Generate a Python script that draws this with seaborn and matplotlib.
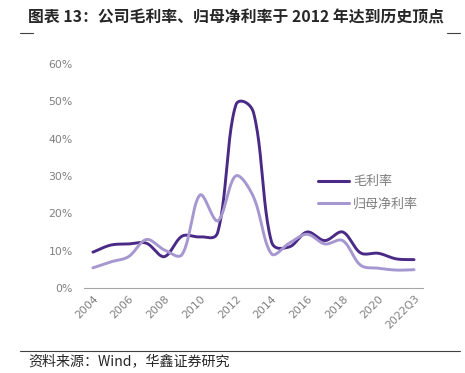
import numpy as np
import pandas as pd
import matplotlib
matplotlib.use('Agg')
import matplotlib.pyplot as plt
import seaborn as sns
from matplotlib.lines import Line2D

## categories and values
years = ['2004', '2005', '2006', '2007', '2008', '2009', '2010', '2011', '2012', '2013',
         '2014', '2015', '2016', '2017', '2018', '2019', '2020', '2021', '2022Q3']
gross_margin = [9.6, 11.5, 11.8, 12.0, 8.4, 13.9, 13.7, 15.0, 48.9, 47.0,
                12.5, 11.0, 15.0, 12.7, 15.0, 9.4, 9.3, 7.8, 7.6]
net_margin = [5.4, 7.0, 8.4, 13.0, 10.2, 9.0, 24.9, 18.0, 30.0, 24.4,
              9.2, 12.0, 14.4, 11.8, 12.7, 6.1, 5.3, 4.8, 4.9]
tick_labels = ['2004', '2006', '2008', '2010', '2012', '2014', '2016', '2018', '2020', '2022Q3']
y_ticks = [0, 10, 20, 30, 40, 50, 60]

dark = '#4a2a86'
light = '#a697d0'
grey = '#7f7f7f'

sns.set_style('white')
plt.rcParams['font.family'] = ['Noto Sans CJK SC', 'DejaVu Sans']

## pixel scale of the plot area, used so the smoothing behaves like excel's
PX_X = 339 / 19
PX_Y = 224 / 60


def smooth(vals, n=24):
    ## excel style smoothed line: bezier through every point, arms partly weighted by segment length
    p = np.array(vals, dtype=float)
    pts = np.column_stack([np.arange(len(p)) * PX_X, p * PX_Y])
    ext = np.vstack([pts[0], pts, pts[-1]])
    out = []
    t = np.linspace(0, 1, n, endpoint=False)[:, None]
    for i in range(len(pts) - 1):
        p0, p1, p2, p3 = ext[i], ext[i + 1], ext[i + 2], ext[i + 3]
        d01 = np.linalg.norm(p1 - p0)
        d12 = np.linalg.norm(p2 - p1)
        d23 = np.linalg.norm(p3 - p2)
        w1 = d12 / (d01 + d12) if d01 + d12 > 0 else 0
        w2 = d12 / (d12 + d23) if d12 + d23 > 0 else 0
        w1 = 0.75 * w1 + 0.25 * 0.5
        w2 = 0.75 * w2 + 0.25 * 0.5
        b1 = p1 + (p2 - p0) * w1 / 3
        b2 = p2 - (p3 - p1) * w2 / 3
        seg = ((1 - t) ** 3) * p1 + 3 * ((1 - t) ** 2) * t * b1 + 3 * (1 - t) * t ** 2 * b2 + t ** 3 * p2
        out.append(seg)
    out.append(pts[-1][None, :])
    out = np.vstack(out)
    return pd.DataFrame({'x': out[:, 0] / PX_X, 'y': out[:, 1] / PX_Y})


fig = plt.figure(figsize=(4.65, 3.73), dpi=100)
ax = fig.add_axes([84 / 465, 1 - 288 / 373, 339 / 465, 224 / 373])

sns.lineplot(data=smooth(gross_margin), x='x', y='y', sort=False, color=dark, lw=2.1, ax=ax)
sns.lineplot(data=smooth(net_margin), x='x', y='y', sort=False, color=light, lw=2.1, ax=ax)

ax.set_xlim(-0.5, len(years) - 0.5)
ax.set_ylim(0, 60)
ax.set_xlabel('')
ax.set_ylabel('')
for s in ['top', 'right', 'left']:
    ax.spines[s].set_visible(False)
ax.spines['bottom'].set_color('#a6a6a6')
ax.spines['bottom'].set_linewidth(0.8)

ax.set_yticks(y_ticks)
ax.set_yticklabels([f'{v}%' for v in y_ticks], color=grey, fontsize=7.8, family='DejaVu Sans')
ax.tick_params(axis='y', length=0, pad=8)

ax.set_xticks([years.index(l) for l in tick_labels])
ax.set_xticklabels(tick_labels, rotation=45, ha='right', rotation_mode='anchor',
                   color=grey, fontsize=7.8, family='DejaVu Sans')
ax.tick_params(axis='x', which='major', length=0, pad=4)
ax.set_xticks(np.arange(-0.5, len(years)), minor=True)
ax.tick_params(axis='x', which='minor', length=4, width=0.8, color='#a6a6a6', direction='out')

handles = [Line2D([], [], color=dark, lw=2.2), Line2D([], [], color=light, lw=2.2)]
ax.legend(handles, ['毛利率', '归母净利率'], loc='upper left', bbox_to_anchor=(0.671, 0.533),
          frameon=False, fontsize=9.4, handlelength=2.4, handletextpad=0.3,
          labelspacing=0.75, borderpad=0, labelcolor=grey)

fig.text(28 / 465, 1 - 18 / 373, '图表 13：公司毛利率、归母净利率于 2012 年达到历史顶点',
         fontsize=11.4, fontweight='bold', va='center', ha='left')
fig.add_artist(Line2D([20 / 465, 33 / 465], [1 - 33 / 373] * 2, color='#404040', lw=0.8))
fig.add_artist(Line2D([447 / 465, 460 / 465], [1 - 33 / 373] * 2, color='#404040', lw=0.8))
fig.add_artist(Line2D([20 / 465, 460 / 465], [1 - 351 / 373] * 2, color='#404040', lw=0.8))
fig.text(28 / 465, 1 - 362 / 373, '资料来源：Wind，华鑫证券研究', fontsize=10.1, va='center', ha='left')

fig.savefig('out.png', dpi=100)
